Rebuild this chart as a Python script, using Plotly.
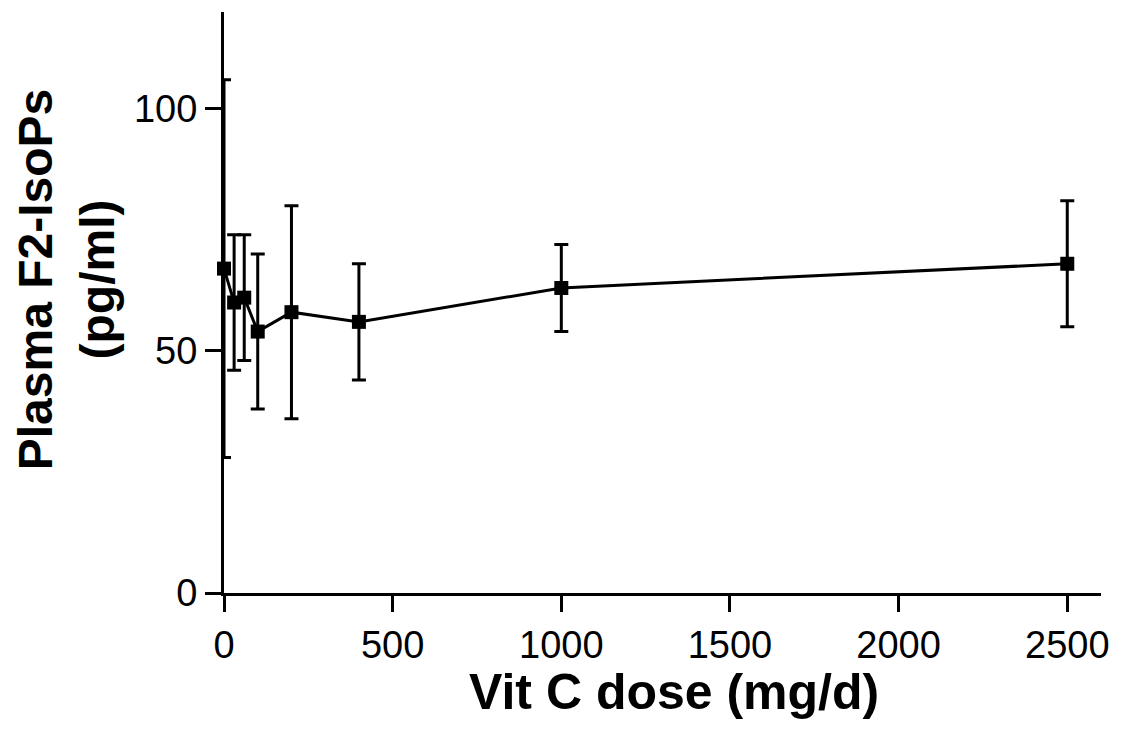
import plotly.graph_objects as go

dose = [0, 30, 60, 100, 200, 400, 1000, 2500]
isops = [67, 60, 61, 54, 58, 56, 63, 68]
err = [39, 14, 13, 16, 22, 12, 9, 13]

x_ticks = [0, 500, 1000, 1500, 2000, 2500]
y_ticks = [0, 50, 100]

fig = go.Figure()
fig.add_trace(go.Scatter(
    x=dose, y=isops, mode="lines+markers",
    line=dict(color="black", width=3),
    marker=dict(symbol="square", size=14, color="black"),
    error_y=dict(type="data", array=err, visible=True, color="black", thickness=3, width=7),
    cliponaxis=False, showlegend=False,
))

font = "Liberation Sans, Arial, sans-serif"
fig.update_layout(
    width=1121, height=736,
    margin=dict(l=224, r=15, t=12, b=143),
    paper_bgcolor="white", plot_bgcolor="white",
    font=dict(family=font, color="black"),
    xaxis=dict(
        range=[0, 2600], tickvals=x_ticks, ticktext=[str(v) for v in x_ticks],
        showgrid=False, zeroline=False, showline=True, linecolor="black", linewidth=3,
        ticks="outside", ticklen=16, tickwidth=2.5, tickcolor="black",
        tickfont=dict(size=38, family=font),
    ),
    yaxis=dict(
        range=[0, 120], tickvals=y_ticks, ticktext=[str(v) for v in y_ticks],
        showgrid=False, zeroline=False, showline=True, linecolor="black", linewidth=3,
        ticks="outside", ticklen=16, tickwidth=2.5, tickcolor="black",
        tickfont=dict(size=38, family=font),
    ),
    annotations=[
        dict(text="<b>Vit C dose (mg/d)</b>", xref="paper", yref="paper",
             x=0.513, y=0, xanchor="center", yanchor="middle", yshift=-99,
             showarrow=False, font=dict(size=50, family=font, color="black")),
        dict(text="<b>Plasma F2-IsoPs<br>(pg/ml)</b>", xref="paper", yref="paper",
             x=0, y=0.54, xshift=-158, xanchor="center", yanchor="middle",
             textangle=-90, showarrow=False,
             font=dict(size=48, family=font, color="black")),
    ],
)

fig.write_html("out.html")
